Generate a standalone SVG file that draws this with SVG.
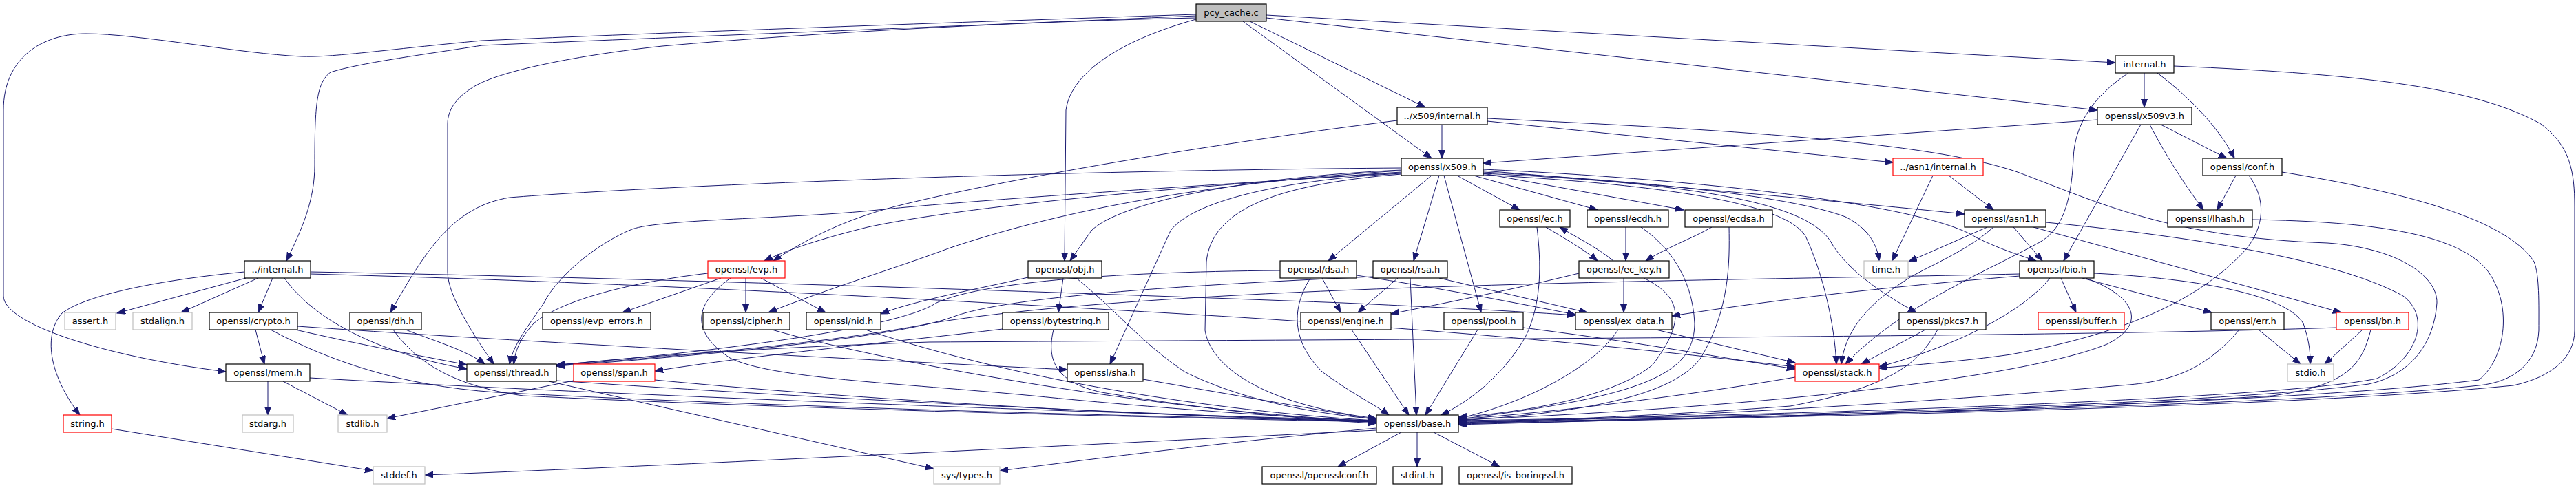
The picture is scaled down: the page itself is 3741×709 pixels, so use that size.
<svg xmlns="http://www.w3.org/2000/svg" width="3741" height="709" viewBox="0 0 3741 709">
<style>
.n rect{fill:#fff;stroke:#000;stroke-width:1.2}
.n.g rect{stroke:#bfbfbf}
.n.r rect{stroke:#ff0000}
.n.s rect{fill:#bfbfbf}
.n text{font-family:"DejaVu Sans",sans-serif;font-size:13px;text-anchor:middle;fill:#000}
#edges path{fill:none;stroke:#191970;stroke-width:1;marker-end:url(#a)}
</style>
<defs>
<marker id="a" markerUnits="userSpaceOnUse" markerWidth="13" markerHeight="10" refX="12" refY="4.5" orient="auto"><path d="M0,0 L12,4.5 L0,9 z" fill="#191970" stroke="#191970" stroke-width="1"/></marker>
</defs>
<rect width="3741" height="709" fill="#fff"/>
<g id="edges">
<path d="M1737,21 C1400,32 950,48 700,59 C560,72 480,84 437,82 C350,78 200,49 125,49 C60,49 5,85 5,160 L5,430 C5,470 150,518 328,540"/>
<path d="M1737,23 C1400,38 950,55 700,66 C610,80 520,92 480,105 C460,120 457,150 457,240 C457,290 440,330 416,379"/>
<path d="M1737,26 C1500,31 1200,46 962,67 C840,80 725,103 688,126 C662,142 650,160 650,180 L650,395 C650,430 690,490 717,529"/>
<path d="M1737,28 C1640,55 1556,100 1548,160 L1546,379"/>
<path d="M1805,31 L2079,230"/>
<path d="M1815,31 L2070,156"/>
<path d="M1839,26 L3046,160"/>
<path d="M1839,22 L3072,91"/>
<path d="M3114,106 L3114,156"/>
<path d="M3133,106 C3185,145 3225,190 3245,230"/>
<path d="M3091,106 C3040,140 3013,180 3011,230 C3008,300 2992,335 2962,352 C2880,397 2760,445 2680,529"/>
<path d="M3157,96 C3450,108 3600,130 3690,180 C3733,212 3739,250 3739,300 L3739,480 C3739,520 3705,548 3650,560 C3300,595 2500,607 2118,616"/>
<path d="M3046,174 L2154,237"/>
<path d="M3109,181 L2997,379"/>
<path d="M3138,181 L3234,230"/>
<path d="M3122,181 C3150,235 3178,275 3200,305"/>
<path d="M3247,255 L3220,305"/>
<path d="M3266,255 C3292,290 3288,330 3262,362 C3200,430 3100,482 2920,515 C2850,525 2780,530 2729,535"/>
<path d="M3314,250 C3500,280 3640,320 3680,380 C3688,400 3687,440 3687,480 C3685,528 3650,555 3600,560 C3300,592 2500,606 2118,615"/>
<path d="M3271,319 C3450,322 3565,340 3610,390 C3650,440 3640,520 3600,552 C3300,590 2500,606 2118,617"/>
<path d="M2094,181 L2094,230"/>
<path d="M2029,175 C1750,210 1450,262 1300,300 C1230,318 1175,345 1123,379"/>
<path d="M2160,176 L2749,236"/>
<path d="M2160,172 C2500,188 2800,205 2930,250 C3050,295 3150,345 3380,353 C3480,360 3540,400 3539,440 C3535,500 3500,545 3440,558 C3200,590 2500,606 2118,612"/>
<path d="M2830,255 L2895,305"/>
<path d="M2807,255 L2748,379"/>
<path d="M2035,244 C1500,248 950,270 740,287 C660,300 620,360 567,454"/>
<path d="M2035,250 C1700,272 1400,300 1260,330 C1200,345 1150,360 1110,379"/>
<path d="M2035,247 C1800,258 1625,295 1585,335 L1554,379"/>
<path d="M2035,248 C1700,268 1500,320 1380,360 C1300,390 1200,420 1116,454"/>
<path d="M2035,251 C1700,272 1400,292 1275,305 C1150,318 960,318 918,333 C870,352 810,400 790,440 C770,470 745,500 740,529"/>
<path d="M2035,252 C1850,262 1730,295 1700,335 L1612,529"/>
<path d="M2079,255 L1929,379"/>
<path d="M2090,255 L2053,379"/>
<path d="M2097,255 L2151,454"/>
<path d="M2035,253 C1850,268 1760,305 1752,380 L1750,480 C1760,540 1850,590 1999,608"/>
<path d="M2116,255 L2207,305"/>
<path d="M2140,255 L2320,305"/>
<path d="M2154,252 L2445,305"/>
<path d="M2154,248 C2400,268 2700,295 2853,311"/>
<path d="M2154,246 C2500,262 2800,300 2870,345 C2900,360 2930,370 2957,379"/>
<path d="M2154,250 C2400,264 2600,285 2680,315 C2710,330 2726,352 2729,379"/>
<path d="M2154,252 C2450,266 2620,292 2658,350 C2680,390 2730,425 2783,454"/>
<path d="M2154,254 C2450,270 2600,300 2623,345 C2648,400 2664,470 2667,529"/>
<path d="M357,404 L170,455"/>
<path d="M375,404 L263,454"/>
<path d="M396,404 L375,454"/>
<path d="M355,395 C250,405 130,425 90,455 C60,490 75,550 116,603"/>
<path d="M413,404 C460,470 560,515 678,536"/>
<path d="M451,395 C900,403 1500,423 1950,440 C2100,447 2200,452 2288,458"/>
<path d="M451,398 C900,410 1300,432 1700,455 C2100,478 2400,508 2607,533"/>
<path d="M371,479 L384,529"/>
<path d="M429,479 C520,500 600,515 678,530"/>
<path d="M432,474 C700,493 1200,520 1550,537"/>
<path d="M393,479 C480,525 580,560 720,570 C1100,590 1600,604 1999,612"/>
<path d="M589,479 C630,495 680,510 704,529"/>
<path d="M571,479 C600,520 650,560 760,575 C1100,592 1600,605 1999,613"/>
<path d="M389,554 L389,603"/>
<path d="M411,554 L505,603"/>
<path d="M450,549 C900,575 1600,600 1999,611"/>
<path d="M808,553 C1200,580 1700,604 1999,612"/>
<path d="M797,554 L1356,681"/>
<path d="M951,552 C1300,585 1700,605 1999,613"/>
<path d="M833,553 C750,570 650,590 562,608"/>
<path d="M162,623 L542,684"/>
<path d="M1047,404 L904,454"/>
<path d="M1083,404 L1083,454"/>
<path d="M1105,404 L1199,454"/>
<path d="M1028,397 C900,412 810,440 775,470 C755,492 748,510 746,529"/>
<path d="M1061,404 C1010,440 1000,480 1060,520 C1120,550 1300,556 1500,575 C1700,595 1900,608 1999,612"/>
<path d="M1121,479 C1300,530 1700,600 1999,612"/>
<path d="M1257,479 C1500,560 1800,600 1999,611"/>
<path d="M1544,404 L1537,454"/>
<path d="M1493,403 C1420,420 1330,436 1279,456"/>
<path d="M1563,404 C1620,450 1660,500 1720,540 C1800,580 1900,600 1999,609"/>
<path d="M1456,478 C1300,497 1100,515 951,539"/>
<path d="M1530,479 C1520,520 1530,555 1600,570 C1750,595 1900,610 1999,615"/>
<path d="M1660,551 L1999,610"/>
<path d="M1920,404 L1947,454"/>
<path d="M1970,400 C2100,420 2200,440 2288,457"/>
<path d="M1859,393 C1600,395 1420,412 1360,440 C1300,480 1000,515 808,530"/>
<path d="M1903,404 C1880,440 1870,490 1920,540 C1960,570 2000,590 2017,603"/>
<path d="M2030,404 L1972,454"/>
<path d="M2090,404 L2305,454"/>
<path d="M1994,402 C1700,415 1460,432 1385,460 C1300,492 1000,518 808,532"/>
<path d="M2048,404 L2057,603"/>
<path d="M2343,379 C2320,360 2290,345 2265,330"/>
<path d="M2293,397 C2200,420 2100,440 2020,456"/>
<path d="M2358,404 L2358,454"/>
<path d="M2387,404 C2441,430 2450,465 2400,530 C2340,580 2200,600 2118,606"/>
<path d="M2245,330 C2270,345 2300,362 2320,379"/>
<path d="M2232,330 C2238,380 2240,440 2215,490 C2180,550 2130,585 2093,603"/>
<path d="M2361,330 L2361,379"/>
<path d="M2383,330 C2420,355 2458,400 2461,470 C2460,540 2400,575 2118,609"/>
<path d="M2486,330 C2460,345 2420,360 2390,379"/>
<path d="M2511,330 C2512,380 2512,450 2470,520 C2430,575 2300,600 2118,611"/>
<path d="M1963,479 L2046,603"/>
<path d="M2146,479 L2070,603"/>
<path d="M2212,476 C2400,500 2500,520 2607,536"/>
<path d="M2350,479 C2310,540 2200,590 2118,608"/>
<path d="M2405,479 L2607,527"/>
<path d="M2924,330 L2966,379"/>
<path d="M2886,330 L2772,380"/>
<path d="M2895,330 C2862,360 2820,378 2779,400 C2712,440 2680,480 2674,529"/>
<path d="M2953,330 L3400,454"/>
<path d="M2971,323 C3200,345 3400,380 3490,430 C3530,460 3512,520 3452,550 C3300,582 2500,606 2118,611"/>
<path d="M2933,401 C2700,420 2550,440 2428,459"/>
<path d="M2933,398 C2500,408 1700,412 1350,470 C1200,500 950,520 808,531"/>
<path d="M2977,404 C2940,450 2850,500 2729,533"/>
<path d="M2993,404 L3015,454"/>
<path d="M3024,404 L3212,454"/>
<path d="M3041,397 C3200,405 3322,430 3345,470 C3355,500 3355,515 3355,529"/>
<path d="M3029,404 C3100,430 3120,470 3060,500 C2950,545 2600,590 2118,610"/>
<path d="M2796,479 L2703,529"/>
<path d="M2814,479 C2790,520 2760,560 2600,590 C2400,605 2200,612 2118,614"/>
<path d="M3252,479 C3200,540 3150,555 3080,560 C2800,585 2400,608 2118,615"/>
<path d="M3280,479 L3341,529"/>
<path d="M3431,479 L3376,529"/>
<path d="M3443,479 C3430,530 3410,560 3300,575 C2900,600 2400,610 2118,613"/>
<path d="M3393,476 C3000,490 2000,493 1350,497 C1100,505 900,520 808,531"/>
<path d="M2607,548 C2450,575 2250,600 2118,609"/>
<path d="M1999,625 C1500,650 900,680 617,690"/>
<path d="M1999,622 C1800,640 1600,665 1452,684"/>
<path d="M2035,628 L1943,678"/>
<path d="M2058,628 L2058,678"/>
<path d="M2082,628 L2178,678"/>
</g>
<g id="pcy_cache" class="n s"><rect x="1737" y="6" width="102" height="25"/><text x="1788" y="23">pcy_cache.c</text></g>
<g id="internal" class="n"><rect x="3072" y="81" width="85" height="25"/><text x="3114.5" y="98">internal.h</text></g>
<g id="x509_internal" class="n"><rect x="2029" y="156" width="131" height="25"/><text x="2094.5" y="173">../x509/internal.h</text></g>
<g id="x509v3" class="n"><rect x="3046" y="156" width="137" height="25"/><text x="3114.5" y="173">openssl/x509v3.h</text></g>
<g id="x509" class="n"><rect x="2035" y="230" width="119" height="25"/><text x="2094.5" y="247">openssl/x509.h</text></g>
<g id="asn1_internal" class="n r"><rect x="2749" y="230" width="131" height="25"/><text x="2814.5" y="247">../asn1/internal.h</text></g>
<g id="conf" class="n"><rect x="3199" y="230" width="115" height="25"/><text x="3256.5" y="247">openssl/conf.h</text></g>
<g id="ec" class="n"><rect x="2178" y="305" width="102" height="25"/><text x="2229" y="322">openssl/ec.h</text></g>
<g id="ecdh" class="n"><rect x="2305" y="305" width="118" height="25"/><text x="2364" y="322">openssl/ecdh.h</text></g>
<g id="ecdsa" class="n"><rect x="2447" y="305" width="127" height="25"/><text x="2510.5" y="322">openssl/ecdsa.h</text></g>
<g id="asn1" class="n"><rect x="2853" y="305" width="118" height="25"/><text x="2912" y="322">openssl/asn1.h</text></g>
<g id="lhash" class="n"><rect x="3148" y="305" width="123" height="25"/><text x="3209.5" y="322">openssl/lhash.h</text></g>
<g id="crypto_internal" class="n"><rect x="355" y="379" width="96" height="25"/><text x="403" y="396">../internal.h</text></g>
<g id="evp" class="n r"><rect x="1028" y="379" width="112" height="25"/><text x="1084" y="396">openssl/evp.h</text></g>
<g id="obj" class="n"><rect x="1493" y="379" width="107" height="25"/><text x="1546.5" y="396">openssl/obj.h</text></g>
<g id="dsa" class="n"><rect x="1859" y="379" width="111" height="25"/><text x="1914.5" y="396">openssl/dsa.h</text></g>
<g id="rsa" class="n"><rect x="1994" y="379" width="108" height="25"/><text x="2048" y="396">openssl/rsa.h</text></g>
<g id="ec_key" class="n"><rect x="2293" y="379" width="131" height="25"/><text x="2358.5" y="396">openssl/ec_key.h</text></g>
<g id="time" class="n g"><rect x="2707" y="379" width="64" height="25"/><text x="2739" y="396">time.h</text></g>
<g id="bio" class="n"><rect x="2933" y="379" width="108" height="25"/><text x="2987" y="396">openssl/bio.h</text></g>
<g id="assert" class="n g"><rect x="94" y="454" width="74" height="25"/><text x="131" y="471">assert.h</text></g>
<g id="stdalign" class="n g"><rect x="193" y="454" width="86" height="25"/><text x="236" y="471">stdalign.h</text></g>
<g id="crypto" class="n"><rect x="304" y="454" width="128" height="25"/><text x="368" y="471">openssl/crypto.h</text></g>
<g id="dh" class="n"><rect x="508" y="454" width="104" height="25"/><text x="560" y="471">openssl/dh.h</text></g>
<g id="evp_errors" class="n"><rect x="788" y="454" width="157" height="25"/><text x="866.5" y="471">openssl/evp_errors.h</text></g>
<g id="cipher" class="n"><rect x="1021" y="454" width="126" height="25"/><text x="1084" y="471">openssl/cipher.h</text></g>
<g id="nid" class="n"><rect x="1171" y="454" width="108" height="25"/><text x="1225" y="471">openssl/nid.h</text></g>
<g id="bytestring" class="n"><rect x="1456" y="454" width="154" height="25"/><text x="1533" y="471">openssl/bytestring.h</text></g>
<g id="engine" class="n"><rect x="1889" y="454" width="131" height="25"/><text x="1954.5" y="471">openssl/engine.h</text></g>
<g id="pool" class="n"><rect x="2097" y="454" width="115" height="25"/><text x="2154.5" y="471">openssl/pool.h</text></g>
<g id="ex_data" class="n"><rect x="2288" y="454" width="140" height="25"/><text x="2358" y="471">openssl/ex_data.h</text></g>
<g id="pkcs7" class="n"><rect x="2758" y="454" width="126" height="25"/><text x="2821" y="471">openssl/pkcs7.h</text></g>
<g id="buffer" class="n r"><rect x="2960" y="454" width="125" height="25"/><text x="3022.5" y="471">openssl/buffer.h</text></g>
<g id="err" class="n"><rect x="3211" y="454" width="106" height="25"/><text x="3264" y="471">openssl/err.h</text></g>
<g id="bn" class="n r"><rect x="3393" y="454" width="105" height="25"/><text x="3445.5" y="471">openssl/bn.h</text></g>
<g id="mem" class="n"><rect x="328" y="529" width="122" height="25"/><text x="389" y="546">openssl/mem.h</text></g>
<g id="thread" class="n"><rect x="678" y="529" width="130" height="25"/><text x="743" y="546">openssl/thread.h</text></g>
<g id="span" class="n r"><rect x="833" y="529" width="118" height="25"/><text x="892" y="546">openssl/span.h</text></g>
<g id="sha" class="n"><rect x="1550" y="529" width="110" height="25"/><text x="1605" y="546">openssl/sha.h</text></g>
<g id="stack" class="n r"><rect x="2607" y="529" width="122" height="25"/><text x="2668" y="546">openssl/stack.h</text></g>
<g id="stdio" class="n g"><rect x="3322" y="529" width="67" height="25"/><text x="3355.5" y="546">stdio.h</text></g>
<g id="string" class="n r"><rect x="92" y="603" width="70" height="25"/><text x="127" y="620">string.h</text></g>
<g id="stdarg" class="n g"><rect x="352" y="603" width="74" height="25"/><text x="389" y="620">stdarg.h</text></g>
<g id="stdlib" class="n g"><rect x="491" y="603" width="71" height="25"/><text x="526.5" y="620">stdlib.h</text></g>
<g id="base" class="n"><rect x="1999" y="603" width="119" height="25"/><text x="2058.5" y="620">openssl/base.h</text></g>
<g id="stddef" class="n g"><rect x="542" y="678" width="75" height="25"/><text x="579.5" y="695">stddef.h</text></g>
<g id="sys_types" class="n g"><rect x="1356" y="678" width="96" height="25"/><text x="1404" y="695">sys/types.h</text></g>
<g id="opensslconf" class="n"><rect x="1833" y="678" width="166" height="25"/><text x="1916" y="695">openssl/opensslconf.h</text></g>
<g id="stdint" class="n"><rect x="2023" y="678" width="71" height="25"/><text x="2058.5" y="695">stdint.h</text></g>
<g id="is_boringssl" class="n"><rect x="2119" y="678" width="164" height="25"/><text x="2201" y="695">openssl/is_boringssl.h</text></g>
</svg>
